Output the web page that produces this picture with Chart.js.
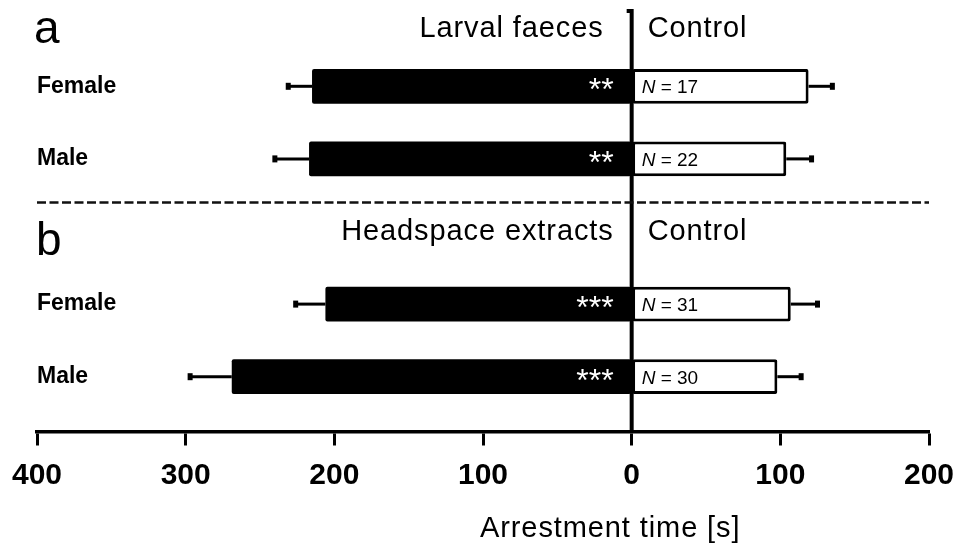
<!DOCTYPE html>
<html>
<head>
<meta charset="utf-8">
<script src="https://cdn.jsdelivr.net/npm/chart.js@4"></script>
<style>
  html, body { margin: 0; padding: 0; background: #ffffff; }
  #wrap { width: 954px; height: 547px; }
</style>
</head>
<body>
<div id="wrap"><canvas id="chart" width="954" height="547"></canvas></div>
<script>
// rows: section a (larval faeces) and section b (headspace extracts), '' is the gap row
const rowLabels = ['Female', 'Male', '', 'Female', 'Male'];

// arrestment time on the odour side (drawn to the left) and on the control side
const treatmentTime = [215, 217, null, 206, 269];
const treatmentErr = [16, 23, null, 20, 28];
const controlTime = [119, 104, null, 107, 98];
const controlErr = [16, 17, null, 18, 16];

const significance = ['**', '**', '', '***', '***'];
const sampleSize = [17, 22, null, 31, 30];

const xTicks = [-400, -300, -200, -100, 0, 100, 200];

const FONT = "'Liberation Sans', Arial, sans-serif";
const AXIS_AT = 4.76;     // y-scale value where the x axis sits
const DIVIDER_AT = 1.6;   // y-scale value of the dashed divider

// ---- helpers -------------------------------------------------------

function spacedText(ctx, text, x, y, font, align, spacing) {
  ctx.save();
  ctx.font = font;
  ctx.fillStyle = '#000';
  ctx.textAlign = align;
  ctx.textBaseline = 'alphabetic';
  if ('letterSpacing' in ctx) ctx.letterSpacing = spacing + 'px';
  ctx.fillText(text, x, y);
  ctx.restore();
}

const figurePlugin = {
  id: 'figure',
  afterDatasetsDraw(chart) {
    const ctx = chart.ctx;
    const xs = chart.scales.x;
    const ys = chart.scales.y;
    const zero = xs.getPixelForValue(0);
    const axisY = ys.getPixelForValue(AXIS_AT);

    // error bars
    [[0, treatmentErr, -1], [1, controlErr, 1]].forEach(([di, errs, sign]) => {
      const meta = chart.getDatasetMeta(di);
      const values = chart.data.datasets[di].data;
      meta.data.forEach((bar, i) => {
        if (values[i] === null || errs[i] === null) return;
        const end = xs.getPixelForValue(values[i] + sign * errs[i]);
        ctx.save();
        ctx.strokeStyle = '#000';
        ctx.lineWidth = 3;
        ctx.beginPath();
        ctx.moveTo(bar.x, bar.y);
        ctx.lineTo(end, bar.y);
        ctx.stroke();
        ctx.fillStyle = '#000';
        ctx.fillRect(end - 2.5, bar.y - 3.5, 5, 7);
        ctx.restore();
      });
    });

    // stars inside the black bars, sample sizes inside the white bars
    const tMeta = chart.getDatasetMeta(0);
    tMeta.data.forEach((bar, i) => {
      if (!significance[i]) return;
      ctx.save();
      ctx.font = '32px ' + FONT;
      ctx.fillStyle = '#fff';
      ctx.textAlign = 'right';
      ctx.textBaseline = 'alphabetic';
      ctx.fillText(significance[i], zero - 18, bar.y + 14);
      ctx.restore();
    });
    const cMeta = chart.getDatasetMeta(1);
    cMeta.data.forEach((bar, i) => {
      if (sampleSize[i] === null) return;
      ctx.save();
      ctx.fillStyle = '#000';
      ctx.textBaseline = 'alphabetic';
      ctx.textAlign = 'left';
      const x0 = zero + 10;
      ctx.font = 'italic 19px ' + FONT;
      ctx.fillText('N', x0, bar.y + 7);
      const w = ctx.measureText('N').width;
      ctx.font = '19px ' + FONT;
      ctx.fillText(' = ' + sampleSize[i], x0 + w, bar.y + 7);
      ctx.restore();
    });

    // zero line
    ctx.save();
    ctx.strokeStyle = '#000';
    ctx.lineWidth = 4;
    ctx.beginPath();
    ctx.moveTo(zero - 5, 11);
    ctx.lineTo(zero, 11);
    ctx.lineTo(zero, axisY);
    ctx.stroke();

    // dashed divider between the two experiments
    const dy = ys.getPixelForValue(DIVIDER_AT);
    ctx.lineWidth = 2.5;
    ctx.strokeStyle = '#111';
    ctx.setLineDash([9, 3.5]);
    ctx.beginPath();
    ctx.moveTo(chart.chartArea.left, dy);
    ctx.lineTo(chart.chartArea.right, dy);
    ctx.stroke();
    ctx.restore();

    // panel letters and headers
    spacedText(ctx, 'a', 34, 43, '46px ' + FONT, 'left', 0);
    spacedText(ctx, 'b', 36, 255, '46px ' + FONT, 'left', 0);
    spacedText(ctx, 'Larval faeces', zero - 28, 37, '29px ' + FONT, 'right', 0.9);
    spacedText(ctx, 'Control', zero + 16, 37, '29px ' + FONT, 'left', 0.9);
    spacedText(ctx, 'Headspace extracts', zero - 18, 240, '29px ' + FONT, 'right', 0.9);
    spacedText(ctx, 'Control', zero + 16, 240, '29px ' + FONT, 'left', 0.9);

    // axis title
    spacedText(ctx, 'Arrestment time [s]', 480, 537, '29px ' + FONT, 'left', 0.9);
  }
};

// ---- chart ---------------------------------------------------------

new Chart(document.getElementById('chart'), {
  type: 'bar',
  data: {
    labels: rowLabels,
    datasets: [
      {
        label: 'Odour',
        data: treatmentTime.map(v => (v === null ? null : -v)),
        backgroundColor: '#000',
        borderWidth: 0,
        borderRadius: 2,
        borderSkipped: false
      },
      {
        label: 'Control',
        data: controlTime,
        backgroundColor: '#fff',
        borderColor: '#000',
        borderWidth: 3,
        borderRadius: 2,
        borderSkipped: false
      }
    ]
  },
  options: {
    indexAxis: 'y',
    responsive: false,
    animation: false,
    layout: { padding: { left: 37, right: 25, top: 50, bottom: 134 } },
    datasets: { bar: { grouped: false, categoryPercentage: 1, barPercentage: 0.48 } },
    plugins: { legend: { display: false }, tooltip: { enabled: false }, title: { display: false } },
    scales: {
      x: {
        type: 'linear',
        min: -400,
        max: 200,
        position: { y: AXIS_AT },
        afterBuildTicks: axis => { axis.ticks = xTicks.map(v => ({ value: v })); },
        afterFit: axis => { axis.paddingLeft = 0; axis.paddingRight = 0; },
        grid: { drawOnChartArea: false, drawTicks: true, tickLength: 12, tickWidth: 3, tickColor: '#000' },
        border: { display: true, color: '#000', width: 3.5 },
        ticks: {
          color: '#000',
          padding: 14,
          maxRotation: 0,
          font: { family: FONT, size: 30, weight: 'bold' },
          callback: v => String(Math.abs(v))
        }
      },
      y: {
        type: 'category',
        position: 'left',
        offset: true,
        grid: { display: false, drawTicks: false },
        border: { display: false },
        ticks: {
          mirror: true,
          padding: 0,
          color: '#000',
          font: { family: FONT, size: 23, weight: 'bold' }
        }
      }
    }
  },
  plugins: [figurePlugin]
});
</script>
</body>
</html>
